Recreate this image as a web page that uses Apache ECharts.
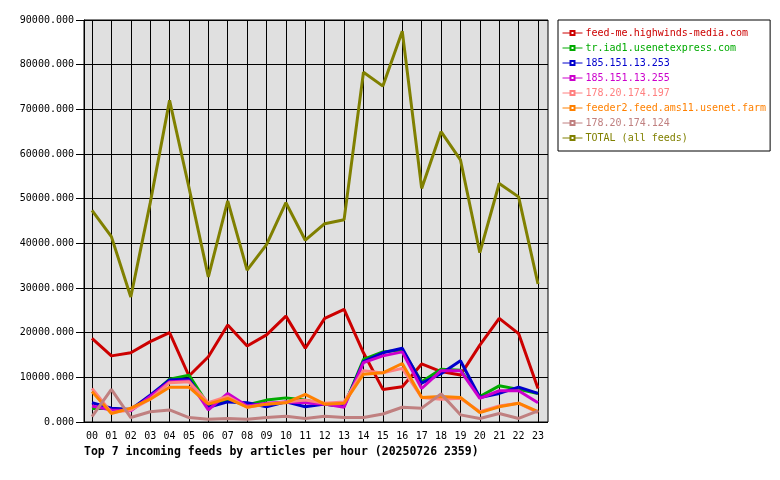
<!DOCTYPE html>
<html>
<head>
<meta charset="utf-8">
<script src="https://cdn.jsdelivr.net/npm/echarts@6/dist/echarts.min.js"></script>
<style>html,body{margin:0;padding:0;background:#fff}#c{width:780px;height:480px}</style>
</head>
<body>
<div id="c"></div>
<script>
const hours = ['00','01','02','03','04','05','06','07','08','09','10','11','12','13','14','15','16','17','18','19','20','21','22','23'];
const yTicks = [0, 90000, 10000];
const names = ['feed-me.highwinds-media.com','tr.iad1.usenetexpress.com','185.151.13.253','185.151.13.255','178.20.174.197','feeder2.feed.ams11.usenet.farm','178.20.174.124','TOTAL (all feeds)'];
const colors = ['#cc0000','#00aa00','#0000cc','#cc00cc','#ff8080','#ff8000','#c08080','#808000'];
const feedMe = [18700,14800,15500,18000,20000,10300,14600,21700,17000,19500,23700,16500,23200,25200,15500,7300,7900,13000,11300,10500,17200,23200,19800,7500];
const trIad1 = [3000,3000,2700,5700,9600,10500,3800,4900,3800,4900,5400,4900,4000,3600,14000,15700,16100,9000,11800,11600,5700,8100,7300,6400];
const ip253 = [4300,3100,2800,6000,9400,9600,3300,4500,4300,3400,4500,3400,4000,3600,13500,15500,16500,8700,10800,13700,5500,6400,7800,6400];
const ip255 = [3600,2700,2500,5700,9000,9200,2700,6400,3600,4200,4500,4300,4000,3300,13300,14800,15700,7500,11500,11500,5300,7000,7000,4300];
const ip197 = [7500,2100,2700,5100,8800,9000,4300,5700,3300,4000,4500,4900,4200,4500,11500,11000,12000,5500,5100,5300,2300,3600,4200,2100];
const feeder2 = [6800,1900,3100,5100,7800,7800,4000,5300,3300,4000,4300,6200,4000,4200,10700,11000,13100,5500,5700,5500,2100,3400,4200,2300];
const ip124 = [1200,7300,1000,2300,2700,1000,600,800,600,1000,1300,800,1300,1000,1000,1800,3300,3100,6300,1600,800,1900,800,2500];
const total = [47400,41500,28000,49000,72000,52500,32500,49500,34000,39700,49100,40700,44400,45300,78300,75200,87500,52300,65000,58700,37900,53400,50400,30900];
const seriesData = [feedMe, trIad1, ip253, ip255, ip197, feeder2, ip124, total];

const mono = 'DejaVu Sans Mono';
const chart = echarts.init(document.getElementById('c'), null, {renderer:'canvas'});
chart.setOption({
  animation: false,
  backgroundColor: '#ffffff',
  title: {
    text: 'Top 7 incoming feeds by articles per hour (20250726 2359)',
    left: 84, top: 446, padding: 0,
    textStyle: {fontFamily: mono, fontWeight: 'bold', fontSize: 11.5, color: '#000'}
  },
  legend: {
    orient: 'vertical',
    left: 558, top: 20,
    padding: [8, 4, 8, 4],
    itemGap: 5,
    itemWidth: 20, itemHeight: 5,
    backgroundColor: '#ffffff',
    borderColor: '#000000', borderWidth: 1,
    textStyle: {fontFamily: mono, fontSize: 10, padding: [0,0,0,-2]},
    lineStyle: {width: 1},
    itemStyle: {borderWidth: 1},
    data: names.map((n, i) => ({name: n, textStyle: {color: colors[i]}}))
  },
  grid: [
    {left: 84, top: 20, width: 464, height: 402, show: true, backgroundColor: '#e0e0e0', borderColor: '#000', borderWidth: 1, z: 0},
    {left: 92, top: 20, width: 446, height: 402, show: false}
  ],
  xAxis: [
    {type: 'category', gridIndex: 0, data: hours, show: false},
    {type: 'category', gridIndex: 1, data: hours, boundaryGap: false,
     axisLine: {show: false}, axisTick: {show: false},
     axisLabel: {fontFamily: mono, fontSize: 10, color: '#000', margin: 9, interval: 0},
     splitLine: {show: true, lineStyle: {color: '#000', width: 1}}}
  ],
  yAxis: [
    {type: 'value', gridIndex: 0, min: yTicks[0], max: yTicks[1], interval: yTicks[2],
     axisLine: {show: true, lineStyle: {color: '#000'}},
     axisTick: {show: true, length: 8, lineStyle: {color: '#000'}},
     axisLabel: {fontFamily: mono, fontSize: 10, color: '#000', margin: 10, formatter: v => v.toFixed(3)},
     splitLine: {show: true, lineStyle: {color: '#000', width: 1}}},
    {type: 'value', gridIndex: 1, min: yTicks[0], max: yTicks[1], interval: yTicks[2], show: false,
     splitLine: {show: false}}
  ],
  series: names.map((n, i) => ({
    name: n, type: 'line', xAxisIndex: 1, yAxisIndex: 1,
    data: seriesData[i],
    symbol: 'emptyRect', symbolSize: 4, showSymbol: false,
    color: colors[i],
    lineStyle: {color: colors[i], width: 3},
    itemStyle: {color: colors[i]},
    emphasis: {disabled: true},
    z: 2 + i
  }))
});
</script>
</body>
</html>
